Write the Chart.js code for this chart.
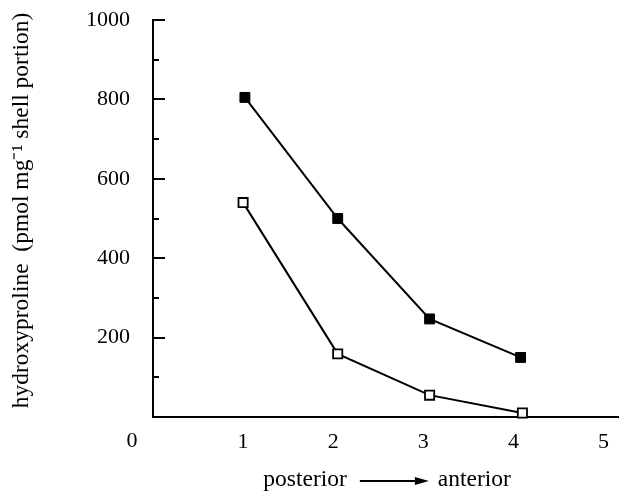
<!DOCTYPE html>
<html>
<head>
<meta charset="utf-8">
<script src="https://cdn.jsdelivr.net/npm/chart.js@4/dist/chart.umd.min.js"></script>
<style>
  html, body { margin: 0; padding: 0; background: #fff; }
</style>
</head>
<body>
<canvas id="chart" width="619" height="491"></canvas>
<script>
// shell portion position (posterior -> anterior)
const filledX = [1.02, 2.05, 3.07, 4.08];
const filledY = [805, 500, 247, 150];
const openX = [1.0, 2.05, 3.07, 4.1];
const openY = [540, 159, 55, 10];

const xTickLabels = [1, 2, 3, 4, 5];
const yTickLabels = [200, 400, 600, 800, 1000];
const yMinorTicks = [100, 300, 500, 700, 900];
const originLabel = "0";
const xTitleLeft = "posterior";
const xTitleRight = "anterior";
const yTitle = "hydroxyproline  (pmol mg\u207B\u00B9 shell portion)";

const FONT = "'Liberation Serif', 'Times New Roman', serif";

const toPoints = (xs, ys) => xs.map((x, i) => ({ x: x, y: ys[i] }));

// inner tick marks on the y axis, the shared "0" at the origin and both axis titles
const axisExtras = {
  id: "axisExtras",
  afterDraw(chart) {
    const ctx = chart.ctx;
    const x = chart.scales.x;
    const y = chart.scales.y;
    const area = chart.chartArea;
    ctx.save();
    ctx.strokeStyle = "#000";
    ctx.lineWidth = 2;
    ctx.beginPath();
    yTickLabels.forEach((v) => {
      const py = Math.round(y.getPixelForValue(v));
      ctx.moveTo(area.left, py);
      ctx.lineTo(area.left + 12, py);
    });
    yMinorTicks.forEach((v) => {
      const py = Math.round(y.getPixelForValue(v));
      ctx.moveTo(area.left, py);
      ctx.lineTo(area.left + 6, py);
    });
    // x axis line runs on to the right edge
    ctx.moveTo(area.right - 1, area.bottom);
    ctx.lineTo(chart.width, area.bottom);
    ctx.stroke();

    ctx.fillStyle = "#000";
    ctx.font = "22px " + FONT;
    ctx.textBaseline = "middle";
    ctx.textAlign = "center";
    ctx.fillText(originLabel, x.getPixelForValue(0) - 21, 441);

    // x axis title: posterior ---> anterior
    const cx = (area.left + area.right) / 2 + 10;
    const ty = 480;
    ctx.font = "23.5px " + FONT;
    ctx.textAlign = "right";
    ctx.fillText(xTitleLeft, cx - 45, ty);
    ctx.textAlign = "left";
    ctx.fillText(xTitleRight, cx + 46, ty);
    ctx.beginPath();
    ctx.moveTo(cx - 32, ty + 1);
    ctx.lineTo(cx + 26, ty + 1);
    ctx.stroke();
    ctx.beginPath();
    ctx.moveTo(cx + 37, ty + 1);
    ctx.lineTo(cx + 23, ty - 3);
    ctx.lineTo(cx + 23, ty + 5);
    ctx.closePath();
    ctx.fill();

    // y axis title, rotated
    ctx.translate(22, (area.top + area.bottom) / 2 - 8);
    ctx.rotate(-Math.PI / 2);
    ctx.textAlign = "center";
    ctx.fillText(yTitle, 0, 0);
    ctx.restore();
  },
};

new Chart(document.getElementById("chart"), {
  type: "line",
  data: {
    datasets: [
      {
        label: "filled",
        data: toPoints(filledX, filledY),
        borderColor: "#000",
        borderWidth: 2,
        pointStyle: "rect",
        pointRadius: 7,
        pointBackgroundColor: "#000",
        pointBorderColor: "#000",
        pointBorderWidth: 1,
        tension: 0,
      },
      {
        label: "open",
        data: toPoints(openX, openY),
        borderColor: "#000",
        borderWidth: 2,
        pointStyle: "rect",
        pointRadius: 6.5,
        pointBackgroundColor: "#fff",
        pointBorderColor: "#000",
        pointBorderWidth: 1.8,
        tension: 0,
      },
    ],
  },
  options: {
    responsive: false,
    animation: false,
    clip: false,
    layout: { padding: { top: 20, right: 0, left: 0, bottom: 0 } },
    plugins: {
      legend: { display: false },
      tooltip: { enabled: false },
    },
    scales: {
      x: {
        type: "linear",
        min: 0,
        max: 5.08,
        afterFit: (s) => {
          s.height = 74;
          s.paddingLeft = 0;
          s.paddingRight = 0;
        },
        grid: { display: false, drawTicks: false },
        border: { display: true, color: "#000", width: 2 },
        ticks: {
          stepSize: 1,
          includeBounds: false,
          autoSkip: false,
          maxRotation: 0,
          padding: 12,
          color: "#000",
          font: { family: FONT, size: 22 },
          callback: (v) => (xTickLabels.includes(v) ? String(v) : ""),
        },
      },
      y: {
        min: 0,
        max: 1000,
        afterFit: (s) => {
          s.width = 153;
          s.paddingTop = 0;
          s.paddingBottom = 0;
        },
        grid: { display: false, drawTicks: false },
        border: { display: true, color: "#000", width: 2 },
        ticks: {
          stepSize: 100,
          autoSkip: false,
          padding: 23,
          color: "#000",
          font: { family: FONT, size: 22 },
          callback: (v) => (yTickLabels.includes(v) ? String(v) : ""),
        },
      },
    },
  },
  plugins: [axisExtras],
});
</script>
</body>
</html>
